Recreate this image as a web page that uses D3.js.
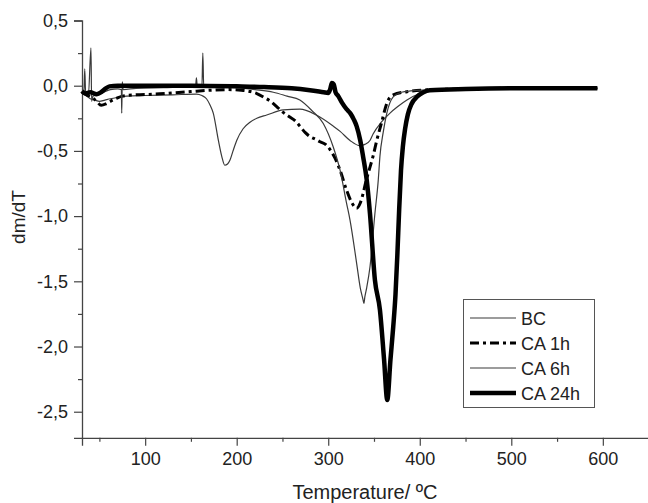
<!DOCTYPE html>
<html>
<head>
<meta charset="utf-8">
<script src="https://d3js.org/d3.v7.min.js"></script>
<style>
  body { margin: 0; background: #fff; }
  text { font-family: "Liberation Sans", Arial, sans-serif; fill: #222; }
</style>
</head>
<body>
<script>

// temperature (ºC), dm/dT
var bc = [[31,-0.05],[36,-0.08],[40,-0.1],[45,-0.11],[50,-0.12],[56,-0.11],[62,-0.1],[70,-0.09],[80,-0.08],
  [100,-0.075],[130,-0.07],[156,-0.064],[162,-0.075],[167,-0.1],[171,-0.15],[174.4,-0.21],[180,-0.42],[183.6,-0.54],
  [187,-0.61],[190,-0.6],[192.7,-0.57],[196,-0.5],[200,-0.42],[207,-0.33],[214.5,-0.28],[222,-0.25],[232.8,-0.225],
  [251,-0.186],[269,-0.18],[287,-0.225],[305.5,-0.31],[313,-0.35],[323.8,-0.42],[334.7,-0.46],[340,-0.45],
  [345.6,-0.42],[349,-0.37],[358,-0.28],[367.5,-0.21],[376,-0.16],[386,-0.11],[400,-0.06],[420,-0.035],
  [500,-0.025],[594,-0.02]];

var ca1h = [[31,-0.05],[36,-0.07],[42,-0.09],[47,-0.12],[52,-0.15],[57,-0.14],[62,-0.12],[68,-0.1],[75,-0.08],
  [90,-0.07],[110,-0.065],[130,-0.055],[150,-0.045],[170,-0.035],[190,-0.03],[205,-0.035],[215,-0.045],[222,-0.06],
  [230,-0.09],[237,-0.12],[243.7,-0.16],[250,-0.2],[258,-0.24],[264,-0.27],[269,-0.31],[275,-0.36],[280,-0.39],
  [286,-0.41],[291,-0.43],[297,-0.45],[302,-0.49],[307,-0.55],[313,-0.65],[320,-0.8],[326,-0.9],[331,-0.94],
  [335,-0.9],[338,-0.83],[341,-0.74],[345,-0.64],[349,-0.54],[353,-0.42],[358,-0.29],[364,-0.135],[371,-0.07],
  [386,-0.046],[404,-0.033],[450,-0.025],[500,-0.02],[550,-0.02],[594,-0.02]];

var ca6h = [[31,-0.05],[33,-0.06],[34,0.13],[35,-0.06],[38,-0.07],[40.8,0.29],[41.5,-0.12],[43,-0.08],[48,-0.07],
  [55,-0.05],[62,-0.03],[70,-0.025],[74,-0.03],[74.4,-0.21],[75,0.03],[76,-0.03],[90,-0.02],[120,-0.015],
  [150,-0.01],[155,-0.01],[156,0.06],[157,-0.01],[162,-0.01],[163,0.25],[164,-0.01],[180,-0.01],[200,-0.015],
  [220,-0.03],[240,-0.05],[255,-0.08],[269,-0.11],[282,-0.19],[294.6,-0.29],[305.5,-0.47],[313,-0.65],[320,-0.9],
  [323.8,-1.03],[331,-1.36],[335,-1.55],[338,-1.64],[339,-1.67],[340,-1.62],[342,-1.55],[345.6,-1.39],[351,-0.98],
  [354.7,-0.72],[356.5,-0.54],[360,-0.36],[364,-0.21],[371,-0.085],[380,-0.05],[390,-0.04],[420,-0.03],
  [500,-0.025],[594,-0.02]];

var ca24h = [[31,-0.04],[35,-0.06],[40,-0.05],[47,-0.065],[52,-0.05],[57,-0.02],[61,-0.005],[70,0],[100,0],
  [150,0],[200,-0.005],[230,-0.01],[260,-0.02],[280,-0.035],[295,-0.05],[300,-0.055],[302,-0.03],[304,0.02],
  [306,0.01],[308,-0.05],[311,-0.08],[315,-0.13],[320,-0.18],[324,-0.21],[328,-0.26],[331,-0.31],[335,-0.42],
  [338,-0.54],[342,-0.72],[345.6,-0.98],[351,-1.49],[356.5,-1.72],[361,-2.1],[364.5,-2.41],[368,-2.1],[371,-1.85],
  [373.5,-1.6],[375.5,-1.3],[377.5,-0.95],[379.5,-0.65],[381.5,-0.47],[384,-0.33],[387,-0.22],[391,-0.14],
  [397,-0.085],[404,-0.05],[411,-0.035],[450,-0.025],[500,-0.02],[550,-0.02],[594,-0.02]];

var seriesNames = ["BC", "CA 1h", "CA 6h", "CA 24h"];
var seriesData = [bc, ca1h, ca6h, ca24h];
var xMajor = [100, 200, 300, 400, 500, 600];
var xMinor = [50, 150, 250, 350, 450, 550];
var yMajor = [0.5, 0, -0.5, -1.0, -1.5, -2.0, -2.5];
var yMinor = [0.25, -0.25, -0.75, -1.25, -1.75, -2.25];

var styles = [
  {w: 1.2, c: "#3a3a3a", dash: null},
  {w: 3, c: "#000", dash: "9,4,3,4"},
  {w: 1.2, c: "#3a3a3a", dash: null},
  {w: 4.5, c: "#000", dash: null}
];

var W = 648, H = 503;
var svg = d3.select("body").append("svg").attr("width", W).attr("height", H);

var x = d3.scaleLinear().domain([31, 650]).range([82, 648.6]);
var y = d3.scaleLinear().domain([-2.7, 0.5]).range([437.8, 20.5]);

var loc = d3.formatLocale({decimal: ",", thousands: ".", grouping: [3], currency: ["", ""], minus: "-"});
var fy = loc.format(".1f");

// axes
var gx = svg.append("g").attr("transform", "translate(0," + y(-2.7) + ")");
gx.call(d3.axisBottom(x).tickValues(xMajor).tickSize(8).tickPadding(6).tickFormat(d3.format("d")));
gx.append("g").call(d3.axisBottom(x).tickValues(xMinor).tickSize(4).tickFormat(""));
var gy = svg.append("g").attr("transform", "translate(" + x(31) + ",0)");
gy.call(d3.axisLeft(y).tickValues(yMajor).tickSize(8).tickPadding(6).tickFormat(fy));
gy.append("g").call(d3.axisLeft(y).tickValues(yMinor).tickSize(4).tickFormat(""));

svg.selectAll(".domain").attr("stroke", "#444").attr("stroke-width", 1.3);
svg.selectAll(".tick line").attr("stroke", "#444").attr("stroke-width", 1.2);
svg.selectAll(".tick text").style("font-size", "18px").attr("fill", "#222")
  .style("font-family", "'Liberation Sans', Arial, sans-serif");
gx.selectAll("g > .domain").filter(function() { return this.parentNode !== gx.node(); }).remove();
gy.selectAll("g > .domain").filter(function() { return this.parentNode !== gy.node(); }).remove();

// lines
var line = d3.line().x(d => x(d[0])).y(d => y(d[1])).curve(d3.curveMonotoneX);
seriesData.forEach(function(s, i) {
  var st = styles[i];
  svg.append("path").datum(s).attr("d", line)
    .attr("fill", "none").attr("stroke", st.c).attr("stroke-width", st.w)
    .attr("stroke-linejoin", "round")
    .attr("stroke-dasharray", st.dash);
});

// axis titles
svg.append("text").attr("x", 365).attr("y", 499).attr("text-anchor", "middle")
  .style("font-size", "20px").text("Temperature/ ºC");
svg.append("text").attr("transform", "translate(25,217) rotate(-90)").attr("text-anchor", "middle")
  .style("font-size", "19px").text("dm/dT");

// legend
var lg = svg.append("g");
lg.append("rect").attr("x", 463.5).attr("y", 299.5).attr("width", 131).attr("height", 108)
  .attr("fill", "#fff").attr("stroke", "#555").attr("stroke-width", 1);
seriesNames.forEach(function(n, i) {
  var yy = 318 + i * 25, st = styles[i];
  lg.append("line").attr("x1", 470).attr("x2", 516).attr("y1", yy).attr("y2", yy)
    .attr("stroke", st.c).attr("stroke-width", st.w).attr("stroke-dasharray", st.dash);
  lg.append("text").attr("x", 521).attr("y", yy + 6.5).style("font-size", "18px").text(n);
});

</script>
</body>
</html>
